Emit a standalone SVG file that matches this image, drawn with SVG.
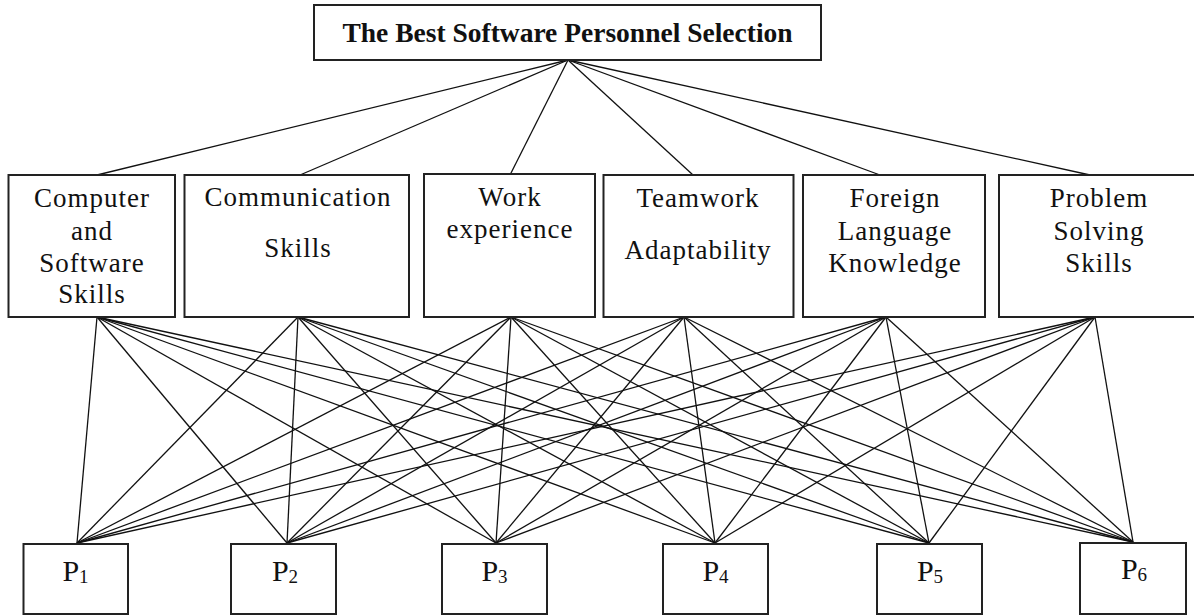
<svg xmlns="http://www.w3.org/2000/svg" width="1194" height="616" viewBox="0 0 1194 616">
<style>
.box{fill:#fff;stroke:#222;stroke-width:2}
.t{font-family:"Liberation Serif","Times New Roman",serif;fill:#111;text-anchor:middle}
.title{font-size:27.5px;font-weight:bold}
.crit{font-size:27px;letter-spacing:1px}
.p{font-size:30px}
.sub{font-size:19px}
.c line{stroke:#111;stroke-width:1.3}
</style>
<rect width="1194" height="616" fill="#fff"/>
<g class="c" id="connectors">
<line x1="568" y1="60" x2="97" y2="175"/>
<line x1="568" y1="60" x2="300" y2="175"/>
<line x1="568" y1="60" x2="510" y2="175"/>
<line x1="568" y1="60" x2="693" y2="175"/>
<line x1="568" y1="60" x2="880" y2="175"/>
<line x1="568" y1="60" x2="1090" y2="175"/>
<line x1="97" y1="317" x2="77" y2="543"/><line x1="97" y1="317" x2="287" y2="543"/><line x1="97" y1="317" x2="496" y2="543"/><line x1="97" y1="317" x2="715" y2="543"/><line x1="97" y1="317" x2="929" y2="543"/><line x1="97" y1="317" x2="1133" y2="542"/>
<line x1="298" y1="317" x2="77" y2="543"/><line x1="298" y1="317" x2="287" y2="543"/><line x1="298" y1="317" x2="496" y2="543"/><line x1="298" y1="317" x2="715" y2="543"/><line x1="298" y1="317" x2="929" y2="543"/><line x1="298" y1="317" x2="1133" y2="542"/>
<line x1="511" y1="317" x2="77" y2="543"/><line x1="511" y1="317" x2="287" y2="543"/><line x1="511" y1="317" x2="496" y2="543"/><line x1="511" y1="317" x2="715" y2="543"/><line x1="511" y1="317" x2="929" y2="543"/><line x1="511" y1="317" x2="1133" y2="542"/>
<line x1="684" y1="317" x2="77" y2="543"/><line x1="684" y1="317" x2="287" y2="543"/><line x1="684" y1="317" x2="496" y2="543"/><line x1="684" y1="317" x2="715" y2="543"/><line x1="684" y1="317" x2="929" y2="543"/><line x1="684" y1="317" x2="1133" y2="542"/>
<line x1="886" y1="317" x2="77" y2="543"/><line x1="886" y1="317" x2="287" y2="543"/><line x1="886" y1="317" x2="496" y2="543"/><line x1="886" y1="317" x2="715" y2="543"/><line x1="886" y1="317" x2="929" y2="543"/><line x1="886" y1="317" x2="1133" y2="542"/>
<line x1="1095" y1="317" x2="77" y2="543"/><line x1="1095" y1="317" x2="287" y2="543"/><line x1="1095" y1="317" x2="496" y2="543"/><line x1="1095" y1="317" x2="715" y2="543"/><line x1="1095" y1="317" x2="929" y2="543"/><line x1="1095" y1="317" x2="1133" y2="542"/>
</g>
<g id="goal">
<rect class="box" x="314" y="5" width="507" height="55"/>
<text class="t title" x="567.5" y="42">The Best Software Personnel Selection</text>
</g>
<g id="c1">
<rect class="box" x="8.5" y="175" width="166.5" height="142"/>
<text class="t crit" x="92" y="207">Computer</text>
<text class="t crit" x="92" y="240">and</text>
<text class="t crit" x="92" y="272">Software</text>
<text class="t crit" x="92" y="303">Skills</text>
</g>
<g id="c2">
<rect class="box" x="184.5" y="175" width="224.5" height="142"/>
<text class="t crit" x="298" y="206">Communication</text>
<text class="t crit" x="298" y="257">Skills</text>
</g>
<g id="c3">
<rect class="box" x="424" y="174" width="171" height="143"/>
<text class="t crit" x="510" y="206">Work</text>
<text class="t crit" x="510" y="238">experience</text>
</g>
<g id="c4">
<rect class="box" x="603.5" y="175" width="190" height="142"/>
<text class="t crit" x="698" y="207">Teamwork</text>
<text class="t crit" x="698" y="259">Adaptability</text>
</g>
<g id="c5">
<rect class="box" x="803" y="175" width="182" height="142"/>
<text class="t crit" x="895" y="207">Foreign</text>
<text class="t crit" x="895" y="240">Language</text>
<text class="t crit" x="895" y="272">Knowledge</text>
</g>
<g id="c6">
<rect class="box" x="999" y="175" width="200" height="142"/>
<text class="t crit" x="1099" y="207">Problem</text>
<text class="t crit" x="1099" y="240">Solving</text>
<text class="t crit" x="1099" y="272">Skills</text>
</g>
<g id="p1">
<rect class="box" x="23.5" y="544" width="104.5" height="70"/>
<text class="t p" x="75.5" y="581">P<tspan class="sub" dy="2">1</tspan></text>
</g>
<g id="p2">
<rect class="box" x="231" y="544" width="105" height="70"/>
<text class="t p" x="285" y="581">P<tspan class="sub" dy="2">2</tspan></text>
</g>
<g id="p3">
<rect class="box" x="442" y="544" width="105" height="70"/>
<text class="t p" x="494.5" y="581">P<tspan class="sub" dy="2">3</tspan></text>
</g>
<g id="p4">
<rect class="box" x="663" y="544" width="105" height="70"/>
<text class="t p" x="715.5" y="581">P<tspan class="sub" dy="2">4</tspan></text>
</g>
<g id="p5">
<rect class="box" x="877" y="544" width="105" height="70"/>
<text class="t p" x="930" y="581">P<tspan class="sub" dy="2">5</tspan></text>
</g>
<g id="p6">
<rect class="box" x="1080" y="543" width="106" height="71"/>
<text class="t p" x="1134" y="579">P<tspan class="sub" dy="2">6</tspan></text>
</g>
</svg>
